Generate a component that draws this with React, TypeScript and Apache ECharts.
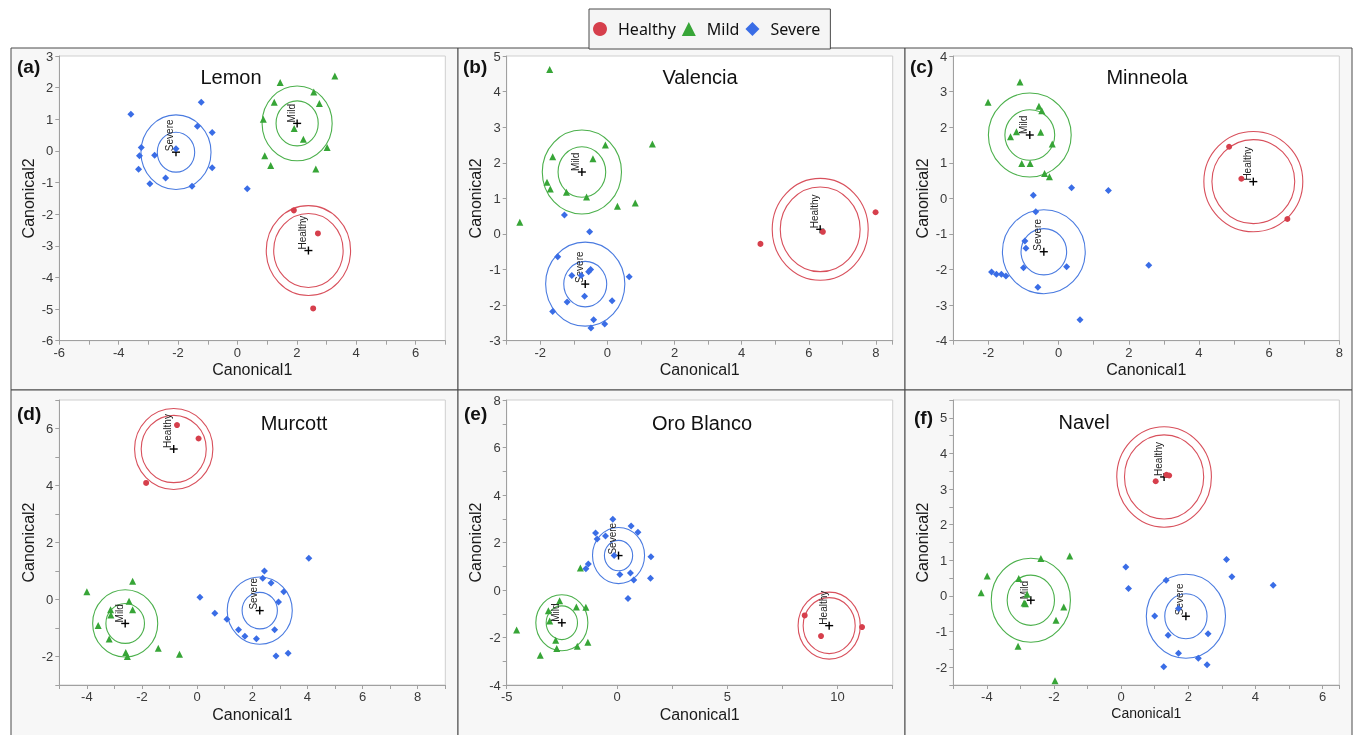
import React, { useEffect, useRef } from "react";
import * as echarts from "echarts";

const groups = ["Healthy", "Mild", "Severe"];
const groupColors = ["#d63f4c", "#37a537", "#3a6de6"];
const circleColors = ["#d8505c", "#4cb04c", "#4a7be0"];
const groupSymbols = ["circle", "triangle", "diamond"];
const groupSymbolSizes = [6, 7, 7];

const panelTitles = ["Lemon", "Valencia", "Minneola", "Murcott", "Oro Blanco", "Navel"];
const panelTags = ["(a)", "(b)", "(c)", "(d)", "(e)", "(f)"];

// axis ranges: [min, max, tick interval, label step]
const xRanges = [
  [-6, 7, 1, 2],
  [-3, 8.5, 1, 2],
  [-3, 8, 1, 2],
  [-5, 9, 1, 2],
  [-5, 12.5, 2.5, 5],
  [-5, 6.5, 1, 2],
];
const yRanges = [
  [-6, 3, 1, 1],
  [-3, 5, 1, 1],
  [-4, 4, 1, 1],
  [-3, 7, 1, 2],
  [-4, 8, 1, 2],
  [-2.5, 5.5, 0.5, 1],
];

// ---- (a) Lemon
const lemonHealthy = [[1.9, -1.88], [2.71, -2.61], [2.55, -4.98]];
const lemonMild = [[1.44, 2.16], [3.28, 2.37], [2.57, 1.86], [2.76, 1.5], [1.24, 1.54], [0.87, 1.0], [1.91, 0.71], [2.22, 0.37], [3.02, 0.11], [0.92, -0.15], [1.12, -0.46], [2.64, -0.57]];
const lemonSevere = [[-3.59, 1.16], [-1.22, 1.54], [-1.35, 0.78], [-0.85, 0.58], [-0.85, -0.53], [-3.24, 0.11], [-3.3, -0.15], [-2.79, -0.14], [-3.33, -0.58], [-2.95, -1.04], [-2.42, -0.86], [-1.53, -1.12], [0.33, -1.2], [-2.07, 0.07]];
// centroid: [x, y, inner radius, outer radius, group index]
const lemonCentroids = [[2.39, -3.15, 1.17, 1.42, 0], [2.01, 0.87, 0.71, 1.18, 1], [-2.07, -0.04, 0.63, 1.18, 2]];

// ---- (b) Valencia
const valenciaHealthy = [[4.56, -0.28], [6.42, 0.06], [7.99, 0.61]];
const valenciaMild = [[-1.72, 4.62], [1.34, 2.53], [-0.06, 2.5], [-1.63, 2.17], [-0.43, 2.11], [-1.8, 1.45], [-1.7, 1.26], [-1.22, 1.17], [-0.62, 1.04], [0.3, 0.78], [0.83, 0.87], [-2.61, 0.33]];
const valenciaSevere = [[-1.28, 0.53], [-0.53, 0.06], [-1.48, -0.64], [-1.06, -1.17], [-0.78, -1.17], [-0.5, -1.0], [-0.56, -1.06], [0.65, -1.2], [-0.68, -1.75], [-1.2, -1.91], [0.14, -1.88], [-1.63, -2.18], [-0.41, -2.41], [-0.08, -2.53], [-0.49, -2.64]];
const valenciaCentroids = [[6.34, 0.13, 1.19, 1.43, 0], [-0.76, 1.74, 0.71, 1.18, 1], [-0.66, -1.41, 0.64, 1.18, 2]];

// ---- (c) Minneola
const minneolaHealthy = [[4.86, 1.45], [5.21, 0.55], [6.52, -0.58]];
const minneolaMild = [[-1.1, 3.27], [-2.01, 2.7], [-0.56, 2.59], [-0.48, 2.46], [-1.2, 1.87], [-1.37, 1.73], [-0.51, 1.86], [-0.18, 1.53], [-1.05, 0.98], [-0.81, 0.98], [-0.4, 0.7], [-0.26, 0.61]];
const minneolaSevere = [[-0.72, 0.09], [0.37, 0.3], [1.42, 0.22], [-0.65, -0.38], [-0.96, -1.2], [-0.93, -1.4], [-1.0, -1.95], [0.23, -1.92], [-1.91, -2.07], [-1.77, -2.13], [-1.63, -2.13], [-1.5, -2.18], [-0.59, -2.5], [0.61, -3.41], [2.57, -1.88]];
const minneolaCentroids = [[5.55, 0.47, 1.18, 1.41, 0], [-0.82, 1.78, 0.71, 1.18, 1], [-0.42, -1.5, 0.65, 1.18, 2]];

// ---- (d) Murcott
const murcottHealthy = [[-0.73, 6.12], [0.05, 5.65], [-1.85, 4.09]];
const murcottMild = [[-4.0, 0.27], [-2.34, 0.64], [-2.47, -0.06], [-3.14, -0.36], [-3.13, -0.54], [-2.34, -0.36], [-3.59, -0.91], [-3.19, -1.39], [-1.41, -1.71], [-2.59, -1.86], [-2.53, -2.0], [-0.64, -1.92]];
const murcottSevere = [[0.1, 0.08], [0.64, -0.48], [1.08, -0.69], [1.5, -1.06], [1.73, -1.29], [2.15, -1.38], [2.44, 1.0], [2.38, 0.75], [2.68, 0.58], [3.14, 0.27], [2.95, -0.09], [2.81, -1.06], [2.86, -1.98], [3.3, -1.89], [4.05, 1.45]];
const murcottCentroids = [[-0.85, 5.28, 1.18, 1.42, 0], [-2.61, -0.84, 0.7, 1.18, 1], [2.27, -0.39, 0.64, 1.18, 2]];

// ---- (e) Oro Blanco
const oroHealthy = [[8.51, -1.07], [9.25, -1.94], [11.11, -1.56]];
const oroMild = [[-1.66, 0.93], [-2.6, -0.45], [-1.84, -0.72], [-1.41, -0.73], [-3.11, -0.87], [-3.05, -1.31], [-4.55, -1.68], [-2.78, -2.12], [-1.32, -2.2], [-1.8, -2.37], [-2.73, -2.46], [-3.48, -2.75]];
const oroSevere = [[-0.19, 2.98], [0.64, 2.69], [0.95, 2.43], [-0.97, 2.4], [-0.52, 2.27], [-0.9, 2.15], [-0.13, 1.45], [1.54, 1.4], [-1.3, 1.09], [-1.41, 0.9], [0.13, 0.65], [0.61, 0.72], [0.76, 0.42], [1.52, 0.49], [0.5, -0.36]];
const oroCentroids = [[9.62, -1.5, 1.18, 1.41, 0], [-2.5, -1.38, 0.71, 1.18, 1], [0.07, 1.45, 0.64, 1.18, 2]];

// ---- (f) Navel
const navelHealthy = [[1.03, 3.22], [1.35, 3.4], [1.43, 3.38]];
const navelMild = [[-1.53, 1.12], [-2.39, 1.05], [-3.99, 0.56], [-4.17, 0.09], [-3.05, 0.49], [-2.89, -0.2], [-2.85, -0.22], [-1.71, -0.31], [-1.94, -0.68], [-3.07, -1.41], [-1.97, -2.38], [-2.8, 0.05]];
const navelSevere = [[0.14, 0.81], [0.22, 0.21], [1.34, 0.44], [3.14, 1.02], [3.3, 0.54], [4.53, 0.3], [1.0, -0.56], [1.71, -0.35], [1.4, -1.1], [2.59, -1.06], [1.71, -1.61], [2.3, -1.75], [2.56, -1.93], [1.27, -1.99]];
const navelCentroids = [[1.28, 3.34, 1.18, 1.41, 0], [-2.69, -0.12, 0.705, 1.18, 1], [1.93, -0.57, 0.63, 1.18, 2]];

const panelPoints = [
  [lemonHealthy, lemonMild, lemonSevere],
  [valenciaHealthy, valenciaMild, valenciaSevere],
  [minneolaHealthy, minneolaMild, minneolaSevere],
  [murcottHealthy, murcottMild, murcottSevere],
  [oroHealthy, oroMild, oroSevere],
  [navelHealthy, navelMild, navelSevere],
];
const panelCentroids = [lemonCentroids, valenciaCentroids, minneolaCentroids, murcottCentroids, oroCentroids, navelCentroids];

// layout (px)
const gridLefts = [59.3, 506.7, 953.3];
const gridTops = [56, 400];
const gridWidth = 386;
const gridHeights = [284.7, 285];
const frameLefts = [11, 458, 905];
const frameTops = [48, 390];
const frameHeights = [342, 350];
const titlePos = [[231, 77], [700, 77], [1147, 77], [294, 423], [702, 423], [1084, 422]];
const tagPos = [[17, 66], [463, 66], [910, 66], [17, 413], [464, 413], [914, 417]];

const FONT = "'Liberation Sans', Arial, sans-serif";

function fmt(step: number) {
  return (v: number) => {
    const q = v / step;
    return Math.abs(q - Math.round(q)) < 1e-6 ? String(Math.round(v * 100) / 100) : "";
  };
}

export default function App() {
  const ref = useRef<HTMLDivElement>(null);
  useEffect(() => {
    if (!ref.current) return;
    const chart = echarts.init(ref.current, null, { renderer: "svg" });

    const grid: any[] = [];
    const xAxis: any[] = [];
    const yAxis: any[] = [];
    const series: any[] = [];
    const graphic: any[] = [];

    for (let p = 0; p < 6; p++) {
      const col = p % 3;
      const row = Math.floor(p / 3);
      graphic.push({
        type: "rect",
        z: -100,
        shape: { x: frameLefts[col], y: frameTops[row], width: 447, height: frameHeights[row] },
        style: { fill: "#f7f7f7", stroke: "#4a4a4a", lineWidth: 1 },
      });
      graphic.push({
        type: "text",
        x: titlePos[p][0],
        y: titlePos[p][1],
        style: { text: panelTitles[p], font: "20px " + FONT, fill: "#111", textAlign: "center", textVerticalAlign: "middle", align: "center", verticalAlign: "middle" },
      });
      graphic.push({
        type: "text",
        x: tagPos[p][0],
        y: tagPos[p][1],
        style: { text: panelTags[p], font: "bold 19px " + FONT, fill: "#111", textAlign: "left", textVerticalAlign: "middle", align: "left", verticalAlign: "middle" },
      });

      grid.push({
        left: gridLefts[col],
        top: gridTops[row],
        width: gridWidth,
        height: gridHeights[row],
        show: true,
        backgroundColor: "#ffffff",
        borderColor: "#cfcfcf",
        borderWidth: 1,
      });
      const xr = xRanges[p];
      const yr = yRanges[p];
      const axisCommon = {
        type: "value",
        axisLine: { show: true, onZero: false, lineStyle: { color: "#a0a0a0", width: 1 } },
        axisTick: { show: true, length: 4, lineStyle: { color: "#a0a0a0" } },
        splitLine: { show: false },
        nameTextStyle: { fontSize: 16, color: "#1a1a1a", fontFamily: FONT },
      };
      xAxis.push({
        ...axisCommon,
        gridIndex: p,
        min: xr[0],
        max: xr[1],
        interval: xr[2],
        name: "Canonical1",
        nameLocation: "middle",
        nameGap: 21,
        nameTextStyle: { fontSize: p === 5 ? 14 : 16, color: "#1a1a1a", fontFamily: FONT },
        axisLabel: { formatter: fmt(xr[3]), fontSize: 13, color: "#3a3a3a", fontFamily: FONT, margin: 5, showMinLabel: true, showMaxLabel: true },
      });
      yAxis.push({
        ...axisCommon,
        gridIndex: p,
        min: yr[0],
        max: yr[1],
        interval: yr[2],
        name: "Canonical2",
        nameLocation: "middle",
        nameGap: 23,
        axisLabel: { formatter: fmt(yr[3]), fontSize: 13, color: "#3a3a3a", fontFamily: FONT, margin: 6, showMinLabel: true, showMaxLabel: true },
      });

      series.push({
        type: "custom",
        name: "circles",
        xAxisIndex: p,
        yAxisIndex: p,
        encode: { x: 0, y: 1 },
        silent: true,
        z: 2,
        data: panelCentroids[p],
        renderItem: (params: any, api: any) => {
          const c = api.coord([api.value(0), api.value(1)]);
          const s1 = api.size([api.value(2), api.value(2)]);
          const s2 = api.size([api.value(3), api.value(3)]);
          const gi = api.value(4);
          const col = circleColors[gi];
          return {
            type: "group",
            children: [
              { type: "ellipse", shape: { cx: c[0], cy: c[1], rx: s1[0], ry: s1[1] }, style: { fill: "none", stroke: col, lineWidth: 1.1 } },
              { type: "ellipse", shape: { cx: c[0], cy: c[1], rx: s2[0], ry: s2[1] }, style: { fill: "none", stroke: col, lineWidth: 1.1 } },
              { type: "line", shape: { x1: c[0] - 4, y1: c[1], x2: c[0] + 4, y2: c[1] }, style: { stroke: "#000", lineWidth: 1.4 } },
              { type: "line", shape: { x1: c[0], y1: c[1] - 4, x2: c[0], y2: c[1] + 4 }, style: { stroke: "#000", lineWidth: 1.4 } },
              {
                type: "text",
                x: c[0] - 1,
                y: c[1] - 1,
                rotation: Math.PI / 2,
                style: { text: groups[gi], fontSize: 10, fontFamily: FONT, fill: "#222", align: "left", verticalAlign: "bottom" },
              },
            ],
          };
        },
      });
      for (let g = 0; g < 3; g++) {
        series.push({
          type: "scatter",
          name: groups[g],
          xAxisIndex: p,
          yAxisIndex: p,
          symbol: groupSymbols[g],
          symbolSize: groupSymbolSizes[g],
          itemStyle: { color: groupColors[g], opacity: 1 },
          z: 3,
          data: panelPoints[p][g],
        });
      }
    }

    chart.setOption({
      animation: false,
      textStyle: { fontFamily: FONT },
      legend: {
        data: groups.map((g, i) => ({ name: g, icon: groupSymbols[i] })),
        left: 589,
        top: 9,
        orient: "horizontal",
        itemWidth: 14,
        itemHeight: 14,
        itemGap: 6,
        padding: [12, 10, 12, 4],
        backgroundColor: "#f5f5f5",
        borderColor: "#4a4a4a",
        borderWidth: 1,
        selectedMode: false,
        textStyle: { fontSize: 16, color: "#111", fontFamily: "'Noto Sans', 'Open Sans', sans-serif", padding: [0, 0, 0, 6] },
      },
      grid,
      xAxis,
      yAxis,
      series,
      graphic,
    });
    return () => chart.dispose();
  }, []);
  return <div ref={ref} style={{ position: "fixed", left: 0, top: 0, width: 1356, height: 735 }} />;
}
